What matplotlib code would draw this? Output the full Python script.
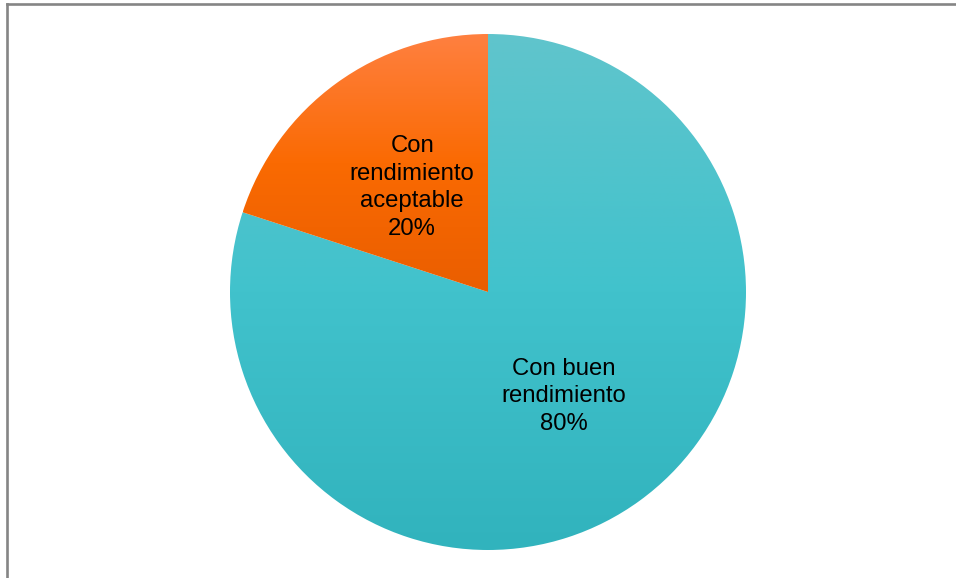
import numpy as np
import matplotlib.pyplot as plt
from matplotlib.colors import LinearSegmentedColormap
from matplotlib.lines import Line2D

plt.rcParams['font.family'] = ['Liberation Sans', 'DejaVu Sans']

labels = ['Con buen\nrendimiento', 'Con\nrendimiento\naceptable']
values = [80, 20]
# gradient stops per slice (top, middle, bottom)
grads = [['#60C5CC', '#41C2CC', '#31B3BD'],
         ['#FF8040', '#FA6A02', '#EA5E00']]

fig = plt.figure(figsize=(9.56, 5.78), dpi=100)
W, H = 956, 578
cx, cy, r = 488, 292, 258
ax = fig.add_axes([(cx - r) / W, (H - cy - r) / H, 2 * r / W, 2 * r / H])

wedges, texts, autotexts = ax.pie(
    values, labels=labels, startangle=90, counterclock=False,
    autopct='%1.0f%%', labeldistance=0.5, pctdistance=0.5,
    wedgeprops=dict(linewidth=0))

for w, g in zip(wedges, grads):
    cmap = LinearSegmentedColormap.from_list('g', g)
    bb = w.get_path().get_extents(w.get_patch_transform())
    grad = np.linspace(0, 1, 256).reshape(-1, 1)
    im = ax.imshow(grad, cmap=cmap, aspect='auto', origin='upper',
                   extent=[bb.x0, bb.x1, bb.y0, bb.y1], zorder=1)
    im.set_clip_path(w)
    w.set_facecolor('none')

# merge label with percent into one centered block
for t, a in zip(texts, autotexts):
    t.set_text(t.get_text() + '\n' + a.get_text())
    t.set_ha('center')
    t.set_va('center')
    t.set_fontsize(17.2)
    t.set_linespacing(1.32)
    t.set_zorder(3)
    a.set_visible(False)

ax.set_xlim(-1, 1)
ax.set_ylim(-1, 1)
ax.set_aspect('auto')
ax.axis('off')

# chart-area border (top and left edges visible)
fig.add_artist(Line2D([7 / W, 1], [1 - 4 / H, 1 - 4 / H], color='#858585',
                      linewidth=1.9, transform=fig.transFigure))
fig.add_artist(Line2D([7 / W, 7 / W], [0, 1 - 4 / H], color='#858585',
                      linewidth=1.9, transform=fig.transFigure))

fig.savefig('out.png', dpi=100)
